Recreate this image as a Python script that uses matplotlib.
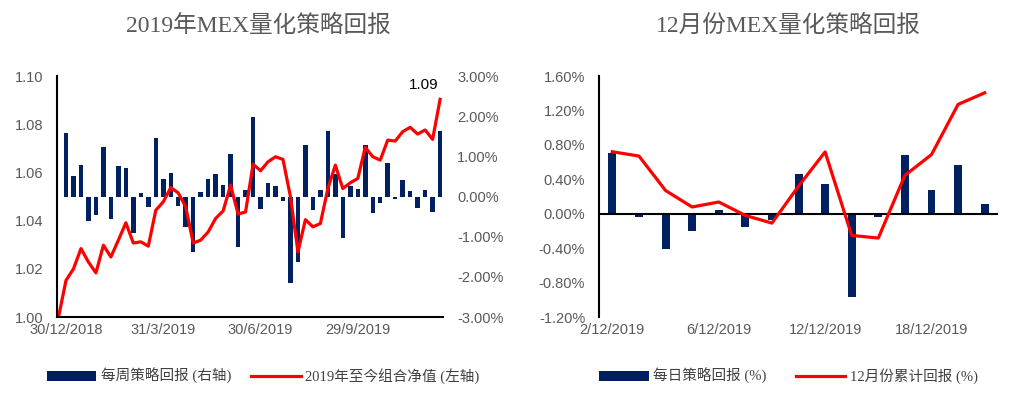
"""MEX quant strategy returns: weekly 2019 (left) and December daily (right)."""

import matplotlib
import matplotlib.pyplot as plt
from matplotlib.ticker import FuncFormatter, MultipleLocator

matplotlib.use("Agg")

NAVY = "#002060"
RED = "#FF0000"
GREY = "#595959"
TEXT_FONT = ["Liberation Serif", "Noto Sans CJK SC"]
plt.rcParams["font.family"] = ["Liberation Sans", "Noto Sans CJK SC"]

# Left panel: weekly returns (%) and cumulative net value
week_pos = list(range(51))
weekly_ret = [1.58, 0.51, 0.78, -0.61, -0.47, 1.23, -0.56, 0.76, 0.70, -0.91,
              0.08, -0.25, 1.45, 0.43, 0.58, -0.23, -0.75, -1.39, 0.12, 0.43,
              0.56, 0.29, 1.05, -1.26, 0.15, 1.97, -0.31, 0.33, 0.25, -0.11,
              -2.15, -1.64, 1.28, -0.33, 0.15, 1.62, 0.55, -1.04, 0.27, 0.18,
              1.29, -0.42, -0.15, 0.83, -0.07, 0.40, 0.14, -0.29, 0.17, -0.39,
              1.62]
nav_pos = list(range(-1, 51))
nav = [1.000, 1.0152, 1.020, 1.0284, 1.0228, 1.0183, 1.0298, 1.0249, 1.0319,
       1.0391, 1.0307, 1.0312, 1.0294, 1.0443, 1.0478, 1.0537, 1.0515, 1.0457,
       1.0307, 1.0319, 1.0353, 1.0409, 1.0440, 1.0547, 1.0427, 1.0436, 1.0634,
       1.0607, 1.0644, 1.0665, 1.0654, 1.0499, 1.0270, 1.0404, 1.0374, 1.0388,
       1.0533, 1.0630, 1.0533, 1.0557, 1.0575, 1.0704, 1.0665, 1.0651, 1.0734,
       1.0730, 1.0769, 1.0787, 1.0759, 1.0776, 1.0737, 1.0903]
week_tick_pos = [0, 13, 26, 39]
week_tick_labels = ["30/12/2018", "31/3/2019", "30/6/2019", "29/9/2019"]

# Right panel: December daily returns (%) and cumulative return (%)
day_pos = list(range(15))
daily_ret = [0.706, -0.04, -0.41, -0.20, 0.047, -0.155, -0.07, 0.458, 0.35,
             -0.97, -0.04, 0.687, 0.27, 0.563, 0.116]
cum_ret = [0.72, 0.67, 0.27, 0.078, 0.136, -0.02, -0.109, 0.32, 0.718,
           -0.252, -0.283, 0.446, 0.687, 1.27, 1.405]
day_tick_pos = [0, 4, 8, 12]
day_tick_labels = ["2/12/2019", "6/12/2019", "12/12/2019", "18/12/2019"]

fig = plt.figure(figsize=(10.24, 3.94), dpi=100)
fig.patch.set_facecolor("white")

# ---- left panel ----
ax = fig.add_axes([0.0557, 0.1954, 0.377, 0.6117])
ax2 = ax.twinx()
bars_w = ax2.bar(week_pos, weekly_ret, width=0.6, color=NAVY)
line_w, = ax.plot(nav_pos, nav, color=RED, linewidth=2.3)
ax.set_zorder(ax2.get_zorder() + 1)
ax.patch.set_visible(False)

ax.set_xlim(-1.2, 50.4)
ax.set_ylim(1.00, 1.10)
ax.yaxis.set_major_locator(MultipleLocator(0.02))
ax.yaxis.set_major_formatter(FuncFormatter(lambda v, p: f"{v:.2f}"))
ax2.set_ylim(-3, 3)
ax2.yaxis.set_major_locator(MultipleLocator(1))
ax2.yaxis.set_major_formatter(FuncFormatter(lambda v, p: f"{v:.2f}%"))
ax.set_xticks(week_tick_pos)
ax.set_xticklabels(week_tick_labels)

for a in (ax, ax2):
    for s in a.spines.values():
        s.set_visible(False)
    a.tick_params(length=0, labelsize=10.5, labelcolor=GREY)
ax.spines["left"].set_visible(True)
ax.spines["bottom"].set_visible(True)
ax.spines["left"].set_linewidth(1.5)
ax.spines["bottom"].set_linewidth(1.5)
ax.tick_params(axis="y", pad=10)
ax.tick_params(axis="x", pad=4)
ax2.tick_params(axis="y", pad=10)

ax.annotate(f"{nav[-1]:.2f}", xy=(nav_pos[-1], nav[-1]), xytext=(-12, 5),
            textcoords="offset points", ha="center", va="bottom",
            fontsize=11, color="black")

fig.text(0.252, 0.935, "2019年MEX量化策略回报", ha="center", va="center",
         fontsize=17, color=GREY, family=TEXT_FONT)

fig.legend([bars_w, line_w], ["每周策略回报 (右轴)", "2019年至今组合净值 (左轴)"],
           loc="center", bbox_to_anchor=(0.257, 0.045),
           ncol=2, frameon=False, handlelength=3.4, handleheight=0.6,
           handletextpad=0.3, columnspacing=1.4,
           prop={"family": TEXT_FONT, "size": 10.5}, labelcolor="#404040")

# ---- right panel ----
bx = fig.add_axes([0.585, 0.1954, 0.3896, 0.6117])
bars_d = bx.bar(day_pos, daily_ret, width=0.3, color=NAVY)
line_d, = bx.plot(day_pos, cum_ret, color=RED, linewidth=2.3)
bx.axhline(0, color="black", linewidth=1.5, zorder=1.5)
bx.set_xlim(-0.5, 14.5)
bx.set_ylim(-1.2, 1.6)
bx.yaxis.set_major_locator(MultipleLocator(0.4))
bx.yaxis.set_major_formatter(FuncFormatter(lambda v, p: f"{v:.2f}%"))
bx.set_xticks(day_tick_pos)
bx.set_xticklabels(day_tick_labels)
for s in bx.spines.values():
    s.set_visible(False)
bx.spines["left"].set_visible(True)
bx.spines["left"].set_linewidth(1.5)
bx.tick_params(length=0, labelsize=10.5, labelcolor=GREY)
bx.tick_params(axis="y", pad=10)
bx.tick_params(axis="x", pad=4)

fig.text(0.77, 0.935, "12月份MEX量化策略回报", ha="center", va="center",
         fontsize=17, color=GREY, family=TEXT_FONT)

fig.legend([bars_d, line_d], ["每日策略回报 (%)", "12月份累计回报 (%)"],
           loc="center", bbox_to_anchor=(0.77, 0.045), ncol=2, frameon=False,
           handlelength=3.4, handleheight=0.6, handletextpad=0.3,
           columnspacing=2.0, prop={"family": TEXT_FONT, "size": 10.5},
           labelcolor="#404040")

fig.savefig("out.png", dpi=100, facecolor="white")
plt.close(fig)
